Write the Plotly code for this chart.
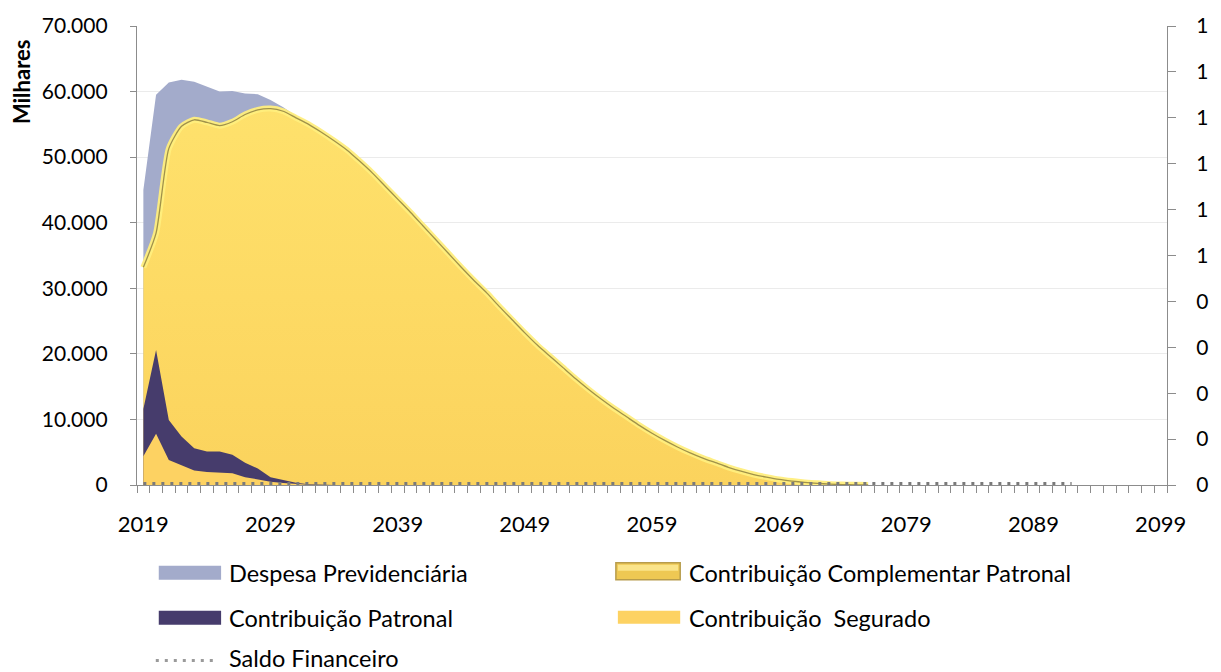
import numpy as np
import plotly.graph_objects as go

# ---- data (values in R$ thousands) ----
years = list(range(2019, 2093))

despesa_previdenciaria = [
    45000, 59500, 61400, 61800, 61500, 60700, 60000, 60100, 59700, 59600,
    58700, 57600, 56300, 55000, 53800, 52500, 51100, 49400, 47600, 45600,
    43600, 41600, 39500, 37400, 35300, 33200, 31200, 29300, 27200, 25200,
    23200, 21300, 19600, 17900, 16200, 14600, 13100, 11700, 10400, 9100,
    7900, 6800, 5800, 4900, 4100, 3400, 2700, 2100, 1600, 1200,
    850, 600, 400, 250, 130, 60, 20, 0, 0, 0,
    0, 0, 0, 0, 0, 0, 0, 0, 0, 0,
    0, 0, 0, 0,
]

contrib_complementar_patronal = [
    33200, 38400, 51300, 54700, 55700, 55300, 54800, 55400, 56500, 57200,
    57400, 57000, 56000, 55000, 53800, 52500, 51100, 49400, 47600, 45600,
    43600, 41600, 39500, 37400, 35300, 33200, 31200, 29300, 27200, 25200,
    23200, 21300, 19600, 17900, 16200, 14600, 13100, 11700, 10400, 9100,
    7900, 6800, 5800, 4900, 4100, 3400, 2700, 2100, 1600, 1200,
    850, 600, 400, 250, 130, 60, 20, 0, 0, 0,
    0, 0, 0, 0, 0, 0, 0, 0, 0, 0,
    0, 0, 0, 0,
]

contrib_patronal = [
    11600, 20600, 9900, 7400, 5600, 5100, 5100, 4600, 3400, 2500,
    1200, 750, 350, 100, 0, 0, 0, 0, 0, 0,
    0, 0, 0, 0, 0, 0, 0, 0, 0, 0,
    0, 0, 0, 0, 0, 0, 0, 0, 0, 0,
    0, 0, 0, 0, 0, 0, 0, 0, 0, 0,
    0, 0, 0, 0, 0, 0, 0, 0, 0, 0,
    0, 0, 0, 0, 0, 0, 0, 0, 0, 0,
    0, 0, 0, 0,
]

contrib_segurado = [
    4400, 7800, 3800, 3000, 2200, 2000, 1900, 1800, 1200, 850,
    500, 300, 150, 50, 0, 0, 0, 0, 0, 0,
    0, 0, 0, 0, 0, 0, 0, 0, 0, 0,
    0, 0, 0, 0, 0, 0, 0, 0, 0, 0,
    0, 0, 0, 0, 0, 0, 0, 0, 0, 0,
    0, 0, 0, 0, 0, 0, 0, 0, 0, 0,
    0, 0, 0, 0, 0, 0, 0, 0, 0, 0,
    0, 0, 0, 0,
]

saldo_financeiro = [
    0, 0, 0, 0, 0, 0, 0, 0, 0, 0,
    0, 0, 0, 0, 0, 0, 0, 0, 0, 0,
    0, 0, 0, 0, 0, 0, 0, 0, 0, 0,
    0, 0, 0, 0, 0, 0, 0, 0, 0, 0,
    0, 0, 0, 0, 0, 0, 0, 0, 0, 0,
    0, 0, 0, 0, 0, 0, 0, 0, 0, 0,
    0, 0, 0, 0, 0, 0, 0, 0, 0, 0,
    0, 0, 0, 0,
]

x_tick_years = [2019, 2029, 2039, 2049, 2059, 2069, 2079, 2089, 2099]
x_tick_text = ["2019", "2029", "2039", "2049", "2059", "2069", "2079", "2089", "2099"]
y2_tick_vals = [0, 0.1, 0.2, 0.3, 0.4, 0.5, 0.6, 0.7, 0.8, 0.9, 1.0]
y2_tick_text = ["0", "0", "0", "0", "0", "1", "1", "1", "1", "1", "1"]

# ---- styling ----
FONT = "Lato, 'Open Sans', sans-serif"
AXIS_GREY = "#8c8c8c"
C_DESPESA = "#a3abcb"
C_PATRONAL = "#463c6c"
C_SEGURADO = "#fdd262"
C_COMPL_EDGE = "#a0924a"

# plot-area geometry in pixels
W, H = 1221, 672
L, R, T, B = 137, 43, 25, 187
PW, PH = W - L - R, H - T - B


def px(x):
    return (x - L) / PW


def py(y):
    return (H - B - y) / PH


fig = go.Figure()

fig.add_trace(go.Scatter(
    x=years, y=despesa_previdenciaria, name="Despesa Previdenciária",
    mode="lines", fill="tozeroy", fillcolor=C_DESPESA,
    line=dict(width=0, color=C_DESPESA), showlegend=False,
))

fig.add_trace(go.Scatter(
    x=years, y=contrib_complementar_patronal,
    name="Contribuição Complementar Patronal",
    mode="lines", fill="tozeroy",
    fillgradient=dict(
        type="vertical",
        colorscale=[[0, "#fbd35d"], [0.5, "#fdda64"], [1, "#fee16c"]],
    ),
    line=dict(width=0, color="#fee16c"), showlegend=False,
))

# bevelled rim along the top of the complementary contribution area
compl = np.array(contrib_complementar_patronal, dtype=float)
yrs = np.array(years)
rim_idx = np.where(compl > 0)[0]
rim_idx = np.append(rim_idx, rim_idx[-1] + 1)
fig.add_trace(go.Scatter(
    x=yrs[rim_idx], y=compl[rim_idx], mode="lines",
    line=dict(width=6, color="rgba(255,238,125,0.95)", shape="spline", smoothing=0.6),
    hoverinfo="skip", showlegend=False,
))
fig.add_trace(go.Scatter(
    x=yrs[rim_idx], y=compl[rim_idx], mode="lines",
    line=dict(width=1.3, color=C_COMPL_EDGE, shape="spline", smoothing=0.6),
    hoverinfo="skip", showlegend=False,
))

fig.add_trace(go.Scatter(
    x=years, y=contrib_patronal, name="Contribuição Patronal",
    mode="lines", fill="tozeroy", fillcolor=C_PATRONAL,
    line=dict(width=0, color=C_PATRONAL), showlegend=False,
))

fig.add_trace(go.Scatter(
    x=years, y=contrib_segurado, name="Contribuição  Segurado",
    mode="lines", fill="tozeroy", fillcolor=C_SEGURADO,
    line=dict(width=0, color=C_SEGURADO), showlegend=False,
))

fig.add_trace(go.Scatter(
    x=years, y=saldo_financeiro, name="Saldo Financeiro", yaxis="y2",
    mode="lines", line=dict(width=6, color="#7a7a7a", dash="3px,6px"),
    showlegend=False,
))

# ---- legend drawn as shapes + labels ----
shapes = []
annotations = []
LEG_SIZE = 23.5


def legend_rect(x0, y0, x1, y1, color, line_color=None, lw=0):
    shapes.append(dict(
        type="rect", xref="paper", yref="paper",
        x0=px(x0), x1=px(x1), y0=py(y1), y1=py(y0),
        fillcolor=color, line=dict(width=lw, color=line_color or color),
        layer="above",
    ))


def legend_text(x, y, text):
    annotations.append(dict(
        xref="paper", yref="paper", x=px(x), y=py(y), text=text,
        showarrow=False, xanchor="left", yanchor="middle",
        font=dict(family=FONT, size=LEG_SIZE, color="#000000"),
    ))


legend_rect(159, 566, 222, 580, C_DESPESA)
legend_text(228, 573, "Despesa Previdenciária")

legend_rect(159, 611, 222, 625, C_PATRONAL)
legend_text(228, 618, "Contribuição Patronal")

shapes.append(dict(
    type="line", xref="paper", yref="paper",
    x0=px(156), x1=px(216), y0=py(661), y1=py(661),
    line=dict(color="#9a9a9a", width=3, dash="3px,6px"),
))
legend_text(228, 658, "Saldo Financeiro")

legend_rect(621, 563, 686, 580, "#eec853", "#b79c4c", 1.5)
legend_rect(623, 565, 684, 571, "#fae48a")
legend_text(693, 573, "Contribuição Complementar Patronal")

legend_rect(623, 611, 686, 624, C_SEGURADO)
legend_text(693, 618, "Contribuição\u00a0 Segurado")

annotations.append(dict(
    xref="paper", yref="paper", x=px(21), y=py(81), text="<b>Milhares</b>",
    textangle=-90, showarrow=False, xanchor="center", yanchor="middle",
    font=dict(family=FONT, size=22, color="#000000"),
))

fig.update_layout(
    width=W, height=H, autosize=False,
    margin=dict(l=L, r=R, t=T, b=B, pad=0),
    paper_bgcolor="white", plot_bgcolor="white",
    separators=",.",
    font=dict(family=FONT, size=21, color="#000000"),
    showlegend=False,
    shapes=shapes, annotations=annotations,
    xaxis=dict(
        range=[2018.5, 2099.5], tickmode="array",
        tickvals=x_tick_years, ticktext=x_tick_text,
        ticks="", showgrid=False, zeroline=False,
        showline=True, linecolor=AXIS_GREY, linewidth=1.3,
        ticklabelstandoff=19,
        tickfont=dict(family=FONT, size=22, color="#000000"),
        minor=dict(ticks="outside", ticklen=7, tickcolor=AXIS_GREY,
                   tickwidth=1.2, tick0=2018.5, dtick=1, showgrid=False),
        layer="above traces",
    ),
    yaxis=dict(
        range=[0, 70000], dtick=10000, tick0=0, tickformat=",d",
        ticks="outside", ticklen=6, tickcolor=AXIS_GREY, tickwidth=1.2,
        showline=True, linecolor=AXIS_GREY, linewidth=1.3,
        showgrid=True, gridcolor="#ebebeb", gridwidth=1, zeroline=False,
        ticklabelstandoff=18,
        tickfont=dict(family=FONT, size=21, color="#000000"),
        layer="above traces",
    ),
    yaxis2=dict(
        overlaying="y", side="right", range=[0, 1],
        tickmode="array", tickvals=y2_tick_vals, ticktext=y2_tick_text,
        ticks="outside", ticklen=8, tickcolor=AXIS_GREY, tickwidth=1.2,
        showline=True, linecolor=AXIS_GREY, linewidth=1.3,
        showgrid=False, zeroline=False,
        ticklabelstandoff=16,
        tickfont=dict(family=FONT, size=21, color="#000000"),
    ),
)

fig.write_html("out.html")
